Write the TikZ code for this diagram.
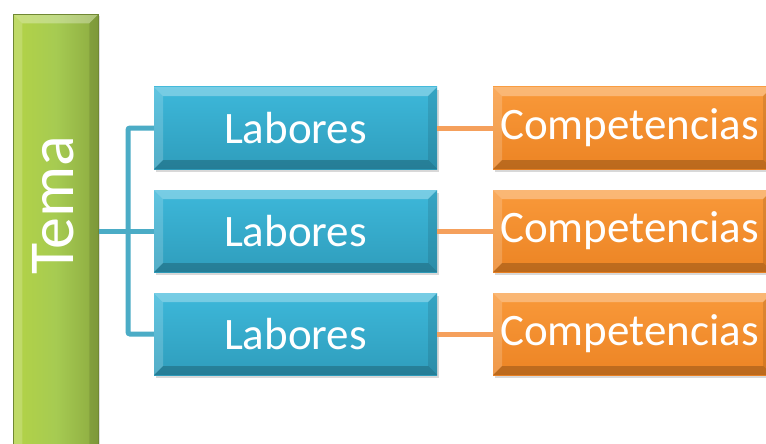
\documentclass[tikz,border=0pt]{standalone}
\usepackage{fontspec}
\setmainfont{Carlito}
\usetikzlibrary{shadows}

\definecolor{barGreen}{HTML}{A6CB52}
\definecolor{barGreenDk}{HTML}{8CAA40}
\definecolor{boxBlue}{HTML}{3DB8DA}
\definecolor{boxBlueDk}{HTML}{2F9DBC}
\definecolor{boxOrange}{HTML}{F9993A}
\definecolor{boxOrangeDk}{HTML}{EC8424}
\definecolor{lineBlue}{HTML}{4BACC6}
\definecolor{lineOrange}{HTML}{F5A05C}

\tikzset{
  bevel/.style={path picture={
    \fill[white,opacity=.3] (path picture bounding box.north west) -- (path picture bounding box.north east)
      -- ([xshift=-9pt,yshift=-9pt]path picture bounding box.north east) -- ([xshift=9pt,yshift=-9pt]path picture bounding box.north west) -- cycle;
    \fill[white,opacity=.18] (path picture bounding box.north west) -- ([xshift=9pt,yshift=-9pt]path picture bounding box.north west)
      -- ([xshift=9pt,yshift=9pt]path picture bounding box.south west) -- (path picture bounding box.south west) -- cycle;
    \fill[black,opacity=.2] (path picture bounding box.south west) -- (path picture bounding box.south east)
      -- ([xshift=-9pt,yshift=9pt]path picture bounding box.south east) -- ([xshift=9pt,yshift=9pt]path picture bounding box.south west) -- cycle;
    \fill[black,opacity=.1] (path picture bounding box.north east) -- ([xshift=-9pt,yshift=-9pt]path picture bounding box.north east)
      -- ([xshift=-9pt,yshift=9pt]path picture bounding box.south east) -- (path picture bounding box.south east) -- cycle;
  }},
  block/.style={bevel, inner sep=0pt, minimum height=82pt, text=white,
    font=\fontsize{45}{50}\selectfont,
    drop shadow={opacity=.3, shadow xshift=2pt, shadow yshift=-3pt}},
  labbox/.style={block, top color=boxBlue, bottom color=boxBlueDk, minimum width=283pt},
  compbox/.style={block, top color=boxOrange, bottom color=boxOrangeDk,
    text width=265pt, inner xsep=7pt, align=left},
  blueline/.style={draw=lineBlue, line width=5pt, rounded corners=2pt},
  orangeline/.style={draw=lineOrange, line width=5pt}
}

\begin{document}
\begin{tikzpicture}[x=1pt,y=-1pt]
  \clip (0,0) rectangle (766,444);
  \fill[white] (0,0) rectangle (766,444);

  % green bar on the left, runs off the bottom
  \node[bevel, draw=barGreenDk!80!black, line width=.6pt, left color=barGreen!85!yellow, right color=barGreenDk,
        middle color=barGreen, minimum width=85pt, minimum height=460pt, anchor=north west,
        drop shadow={opacity=.25, shadow xshift=2pt, shadow yshift=-2pt}] (bar) at (13,14) {};
  \node[rotate=90, text=white, font=\fontsize{64}{70}\selectfont] (tema) at (53,205) {Tema};

  % middle column
  \node[labbox] (lab1) at (295.5,128) {Labores};
  \node[labbox] (lab2) at (295.5,231) {Labores};
  \node[labbox] (lab3) at (295.5,334) {Labores};

  % right column
  \node[compbox, anchor=west] (comp1) at (493,128) {Competencias};
  \node[compbox, anchor=west] (comp2) at (493,231) {Competencias};
  \node[compbox, anchor=west] (comp3) at (493,334) {Competencias};

  % fork
  \coordinate (fork) at (128,231);
  \draw[blueline] (lab1.west) -| (fork) |- (lab3.west);
  \draw[blueline] (bar.east |- fork) -- (lab2.west);

  \foreach \i in {1,2,3}
    \draw[orangeline] (lab\i.east) -- (comp\i.west);
\end{tikzpicture}
\end{document}
